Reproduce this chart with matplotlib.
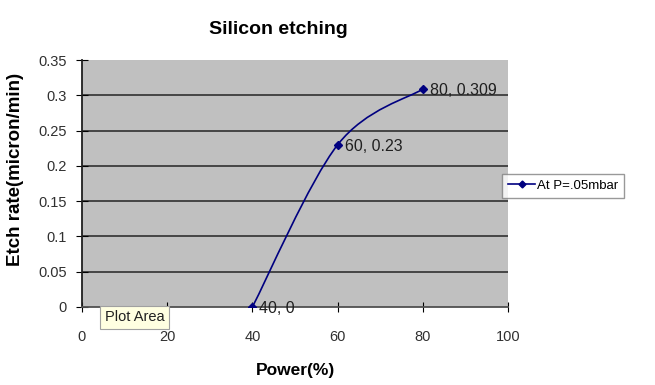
import numpy as np
import matplotlib
matplotlib.use('Agg')
import matplotlib.pyplot as plt
from matplotlib.path import Path
import matplotlib.patches as mpatches

plt.rcParams['font.family'] = ['Liberation Sans', 'DejaVu Sans']

power = [40, 60, 80]
etch_rate = [0, 0.23, 0.309]
labels = ['40, 0', '60, 0.23', '80, 0.309']
series_name = 'At P=.05mbar'
yticks = [0, 0.05, 0.1, 0.15, 0.2, 0.25, 0.3, 0.35]
xticks = [0, 20, 40, 60, 80, 100]


def smooth_path(xs, ys):
    # Excel-style smoothed line: cubic bezier through the points
    pts = np.column_stack([xs, ys]).astype(float)
    n = len(pts)
    verts = [pts[0]]
    codes = [Path.MOVETO]
    for i in range(n - 1):
        p0 = pts[i - 1] if i > 0 else pts[i]
        p1 = pts[i]
        p2 = pts[i + 1]
        p3 = pts[i + 2] if i + 2 < n else pts[i + 1]
        c1 = p1 + (p2 - p0) / 6
        c2 = p2 - (p3 - p1) / 6
        verts += [c1, c2, p2]
        codes += [Path.CURVE4] * 3
    return Path(verts, codes)


fig = plt.figure(figsize=(6.55, 3.85), dpi=100)
ax = fig.add_axes([0.125, 0.203, 0.651, 0.641])
ax.set_facecolor('#c0c0c0')

ax.set_xlim(0, 100)
ax.set_ylim(0, 0.35)
ax.set_xticks(xticks)
ax.set_yticks(yticks)
ax.set_yticklabels(['0', '0.05', '0.1', '0.15', '0.2', '0.25', '0.3', '0.35'])
ax.tick_params(labelsize=10.5, colors='black')
ax.tick_params(axis='y', direction='inout', length=8, pad=7)
ax.tick_params(axis='x', direction='inout', length=7, pad=13)
for lab in ax.get_xticklabels() + ax.get_yticklabels():
    lab.set_color('#303030')

for y in yticks[1:-1]:
    ax.axhline(y, color='#303030', lw=1.2, zorder=1)
for s in ['top', 'right']:
    ax.spines[s].set_visible(False)
ax.spines['left'].set_color('#202020')
ax.spines['bottom'].set_color('#505050')
ax.spines['left'].set_linewidth(1.3)
ax.spines['bottom'].set_linewidth(1.3)

ax.add_patch(mpatches.PathPatch(smooth_path(power, etch_rate), fill=False,
                                edgecolor='#000080', lw=1.2, zorder=3))
ax.plot(power, etch_rate, linestyle='none', marker='D', markersize=4,
        color='#000080', zorder=4)
line_proxy, = ax.plot([], [], color='#000080', marker='D', markersize=3.5, lw=1.2)

for x, y, t in zip(power, etch_rate, labels):
    ax.annotate(t, (x, y), xytext=(5, -4.5), textcoords='offset points',
                fontsize=11.5, color='#202020', zorder=5)

ax.set_xlabel('Power(%)', fontsize=12.5, fontweight='bold', labelpad=14)
ax.set_ylabel('Etch rate(micron/min)', fontsize=13.5, fontweight='bold')
ax.yaxis.set_label_coords(-0.135, 0.555)
fig.text(0.425, 0.912, 'Silicon etching', fontsize=14, fontweight='bold', ha='center')

leg = fig.legend([line_proxy], [series_name], loc='center left',
                 bbox_to_anchor=(0.767, 0.517), fontsize=9.5, frameon=True,
                 fancybox=False, edgecolor='#808080', handlelength=2.0,
                 borderpad=0.45, handletextpad=0.15, borderaxespad=0)
leg.get_frame().set_linewidth(1)

fig.text(0.16, 0.165, 'Plot Area', fontsize=10.5, color='#202020',
         bbox=dict(boxstyle='square,pad=0.3', facecolor='#ffffe1', edgecolor='#a0a0a0', lw=0.8))

fig.savefig('out.png', dpi=100)
